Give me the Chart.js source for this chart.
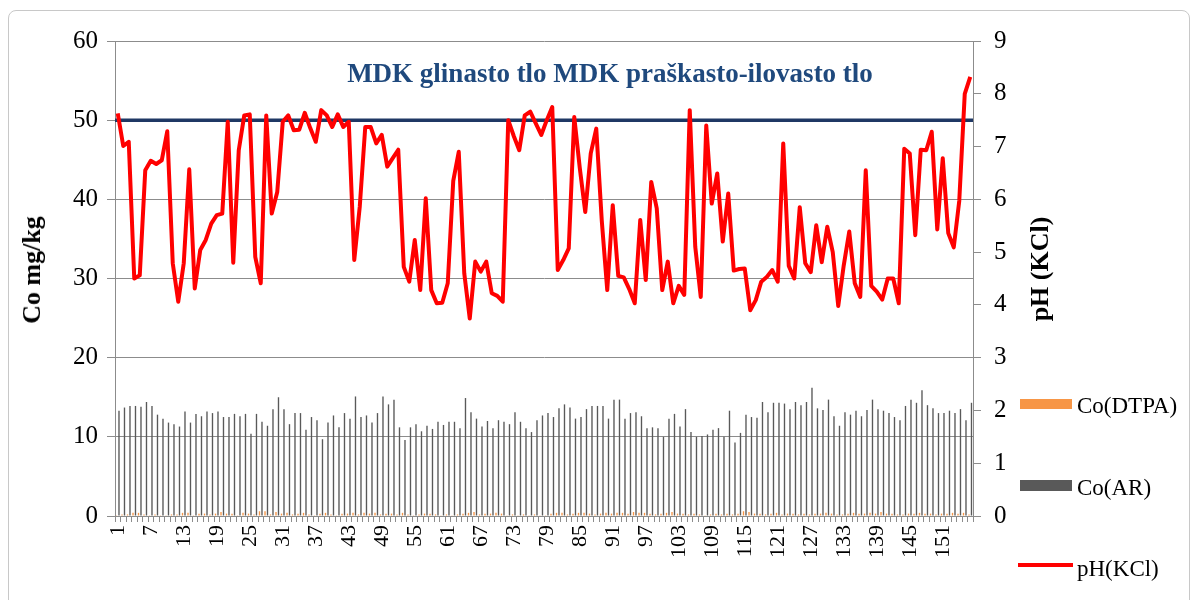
<!DOCTYPE html>
<html>
<head>
<meta charset="utf-8">
<script src="https://cdn.jsdelivr.net/npm/chart.js@4/dist/chart.umd.min.js"></script>
<style>
  body { margin: 0; background: #fff; }
  #wrap { position: relative; width: 1196px; height: 600px; overflow: hidden; font-family: "Liberation Serif", "Times New Roman", serif; }
  canvas { position: absolute; left: 0; top: 0; }
  .t { position: absolute; white-space: nowrap; line-height: 1; }
  #title { left: 610px; top: 73px; transform: translate(-50%, -50%); font-weight: bold; font-size: 27px; color: #1f497d; }
  #ytitle { left: 32px; top: 270px; transform: translate(-50%, -50%) rotate(-90deg); font-weight: bold; font-size: 26px; color: #000; }
  #y1title { left: 1040px; top: 269px; transform: translate(-50%, -50%) rotate(-90deg); font-weight: bold; font-size: 26px; color: #000; }
  .sw { position: absolute; }
  .lg { position: absolute; font-size: 23px; color: #000; transform: translateY(-50%); white-space: nowrap; line-height: 1; }
  #frame { position: absolute; left: 8px; top: 10px; width: 1182px; height: 620px; border: 1px solid #c8c8c8; border-radius: 8px; box-sizing: border-box; }
</style>
</head>
<body>
<div id="wrap">
  <div id="frame"></div>
  <canvas id="c" width="1196" height="600"></canvas>
  <div class="t" id="title">MDK glinasto tlo MDK praškasto-ilovasto tlo</div>
  <div class="t" id="ytitle">Co mg/kg</div>
  <div class="t" id="y1title">pH (KCl)</div>
  <div class="sw" style="left:1020px;top:399px;width:52px;height:10px;background:#f79646"></div>
  <div class="lg" style="left:1077px;top:405px">Co(DTPA)</div>
  <div class="sw" style="left:1020px;top:480px;width:52px;height:11px;background:#595959"></div>
  <div class="lg" style="left:1077px;top:487px">Co(AR)</div>
  <div class="sw" style="left:1018px;top:563px;width:55px;height:4px;background:#ff0000"></div>
  <div class="lg" style="left:1077px;top:568px">pH(KCl)</div>
</div>
<script>
const categories = Array.from({ length: 156 }, (_, i) => String(i + 1));
const xTickLabels = ['1','7','13','19','25','31','37','43','49','55','61','67','73','79','85','91','97','103','109','115','121','127','133','139','145','151'];
const leftTicks = [0, 10, 20, 30, 40, 50, 60];
const rightTicks = [0, 1, 2, 3, 4, 5, 6, 7, 8, 9];
const mdkLimit = 50;

const coDTPA = [
  0.1,0.2,0.2,0.4,0.4,0.2,0.1,0.2,0.1,0.1,
  0.2,0.2,0.4,0.4,0.1,0.3,0.3,0.2,0.3,0.5,
  0.3,0.3,0.1,0.4,0.3,0.2,0.6,0.6,0.2,0.5,
  0.3,0.4,0.2,0.3,0.4,0.2,0.1,0.3,0.4,0.2,
  0.1,0.3,0.3,0.4,0.2,0.4,0.3,0.4,0.2,0.3,
  0.3,0.2,0.4,0.2,0.1,0.2,0.3,0.3,0.2,0.1,
  0.2,0.1,0.2,0.3,0.4,0.5,0.2,0.3,0.3,0.4,
  0.3,0.1,0.2,0.1,0.2,0.1,0.2,0.1,0.1,0.3,
  0.4,0.4,0.2,0.3,0.4,0.4,0.3,0.2,0.3,0.4,
  0.3,0.4,0.4,0.3,0.5,0.4,0.4,0.3,0.2,0.3,
  0.4,0.5,0.3,0.3,0.2,0.3,0.2,0.1,0.2,0.3,
  0.2,0.3,0.2,0.3,0.6,0.5,0.3,0.3,0.2,0.3,
  0.4,0.2,0.3,0.3,0.2,0.3,0.2,0.3,0.3,0.4,
  0.3,0.2,0.2,0.3,0.4,0.3,0.3,0.4,0.3,0.5,
  0.3,0.3,0.2,0.2,0.3,0.3,0.4,0.3,0.3,0.2,
  0.3,0.3,0.4,0.3,0.4,0.2
];

const coAR = [
  13.3,13.7,13.9,13.9,13.8,14.4,13.9,12.8,12.3,11.8,
  11.6,11.3,13.2,11.8,12.9,12.6,13.2,13.0,13.2,12.5,
  12.5,12.9,12.6,12.9,10.4,12.9,11.9,11.4,13.5,15.0,
  13.5,11.6,13.0,13.0,10.9,12.5,12.1,9.7,11.8,12.7,
  11.2,13.0,12.3,15.1,12.5,12.7,11.8,13.0,15.1,14.1,
  14.7,11.2,9.6,11.2,11.6,10.7,11.4,11.0,11.9,11.5,
  11.9,11.9,11.1,14.9,13.1,12.3,11.3,12.0,11.1,12.1,
  11.9,11.6,13.1,11.9,11.1,10.6,12.1,12.7,13.0,12.5,
  13.6,14.1,13.7,12.3,12.5,13.5,13.9,13.9,13.9,12.3,
  14.7,14.7,12.3,13.0,13.1,12.6,11.1,11.2,11.1,10.0,
  12.3,12.9,11.3,13.5,10.6,10.0,10.1,10.3,10.9,11.1,
  10.0,13.3,9.3,10.5,12.8,12.5,12.4,14.4,13.1,14.3,
  14.3,14.2,13.5,14.4,14.0,14.4,16.2,13.6,13.4,14.7,
  12.6,11.4,13.1,12.8,13.3,12.6,13.4,14.7,13.5,13.3,
  13.0,12.5,12.1,13.9,14.7,14.3,15.9,14.0,13.6,13.0,
  13.0,13.3,13.0,13.5,12.1,14.3
];

const phKCl = [
  7.63,7.01,7.09,4.50,4.56,6.55,6.73,6.67,6.74,7.29,
  4.79,4.06,4.79,6.57,4.31,5.04,5.23,5.54,5.70,5.73,
  7.47,4.80,6.93,7.59,7.61,4.91,4.41,7.59,5.73,6.14,
  7.47,7.59,7.31,7.32,7.64,7.35,7.09,7.69,7.59,7.37,
  7.61,7.37,7.47,4.85,5.86,7.37,7.37,7.06,7.22,6.62,
  6.78,6.94,4.72,4.44,5.23,4.28,6.02,4.28,4.03,4.04,
  4.41,6.35,6.90,4.60,3.74,4.82,4.63,4.82,4.22,4.17,
  4.06,7.50,7.20,6.93,7.59,7.66,7.44,7.22,7.50,7.75,
  4.66,4.85,5.07,7.56,6.60,5.76,6.87,7.34,5.60,4.28,
  5.89,4.55,4.52,4.30,4.03,5.61,4.47,6.33,5.83,4.28,
  4.82,4.03,4.36,4.19,7.69,5.10,4.15,7.40,5.92,6.49,
  5.20,6.11,4.65,4.68,4.69,3.90,4.09,4.44,4.53,4.66,
  4.44,7.06,4.74,4.50,5.85,4.79,4.62,5.51,4.81,5.48,
  5.00,3.98,4.75,5.39,4.41,4.15,6.55,4.36,4.25,4.10,
  4.50,4.50,4.03,6.96,6.87,5.32,6.94,6.93,7.28,5.43,
  6.78,5.36,5.09,5.97,8.00,8.32
];

const FONT = '"Liberation Serif", "Times New Roman", serif';
const AXIS_GREY = '#8c8c8c';

const mdkPlugin = {
  id: 'mdkLine',
  beforeDatasetsDraw(chart) {
    const { ctx, chartArea: a, scales } = chart;
    const py = scales.y.getPixelForValue(mdkLimit);
    ctx.save();
    ctx.strokeStyle = '#1f3864';
    ctx.lineWidth = 3.5;
    ctx.beginPath();
    ctx.moveTo(a.left, py);
    ctx.lineTo(a.right, py);
    ctx.stroke();
    ctx.restore();
  }
};

new Chart(document.getElementById('c'), {
  data: {
    labels: categories,
    datasets: [
      { type: 'line', label: 'pH(KCl)', data: phKCl, yAxisID: 'y1', borderColor: '#ff0000', backgroundColor: '#ff0000',
        borderWidth: 4, pointRadius: 0, tension: 0, order: 0, borderJoinStyle: 'round' },
      { type: 'bar', label: 'Co(DTPA)', data: coDTPA, yAxisID: 'y', backgroundColor: '#f79646',
        categoryPercentage: 0.9, barPercentage: 0.55, order: 2 },
      { type: 'bar', label: 'Co(AR)', data: coAR, yAxisID: 'y', backgroundColor: '#595959',
        categoryPercentage: 0.9, barPercentage: 0.55, order: 2 }
    ]
  },
  options: {
    responsive: false,
    animation: false,
    events: [],
    layout: { padding: { top: 41, left: 0, right: 0, bottom: 0 } },
    plugins: { legend: { display: false }, tooltip: { enabled: false }, title: { display: false } },
    scales: {
      x: {
        type: 'category',
        offset: true,
        grid: { display: true, drawOnChartArea: false, drawTicks: true, tickLength: 6, color: AXIS_GREY, offset: true },
        border: { display: true, color: AXIS_GREY },
        ticks: {
          autoSkip: false, maxRotation: 90, minRotation: 90, padding: 3,
          color: '#000', font: { family: FONT, size: 22 },
          callback: (v, i) => xTickLabels.includes(categories[i]) ? categories[i] : ''
        },
        afterFit: s => { s.height = 84; }
      },
      y: {
        type: 'linear', position: 'left', min: leftTicks[0], max: leftTicks[leftTicks.length - 1],
        afterBuildTicks: s => { s.ticks = leftTicks.map(v => ({ value: v })); },
        grid: { color: AXIS_GREY, tickLength: 8 },
        border: { display: true, color: AXIS_GREY },
        ticks: { padding: 9, color: '#000', font: { family: FONT, size: 25 } },
        afterFit: s => { s.width = 115; }
      },
      y1: {
        type: 'linear', position: 'right', min: rightTicks[0], max: rightTicks[rightTicks.length - 1],
        afterBuildTicks: s => { s.ticks = rightTicks.map(v => ({ value: v })); },
        grid: { drawOnChartArea: false, color: AXIS_GREY, tickLength: 8 },
        border: { display: true, color: AXIS_GREY },
        ticks: { padding: 13, color: '#000', font: { family: FONT, size: 25 } },
        afterFit: s => { s.width = 223; }
      }
    }
  },
  plugins: [mdkPlugin]
});
</script>
</body>
</html>
